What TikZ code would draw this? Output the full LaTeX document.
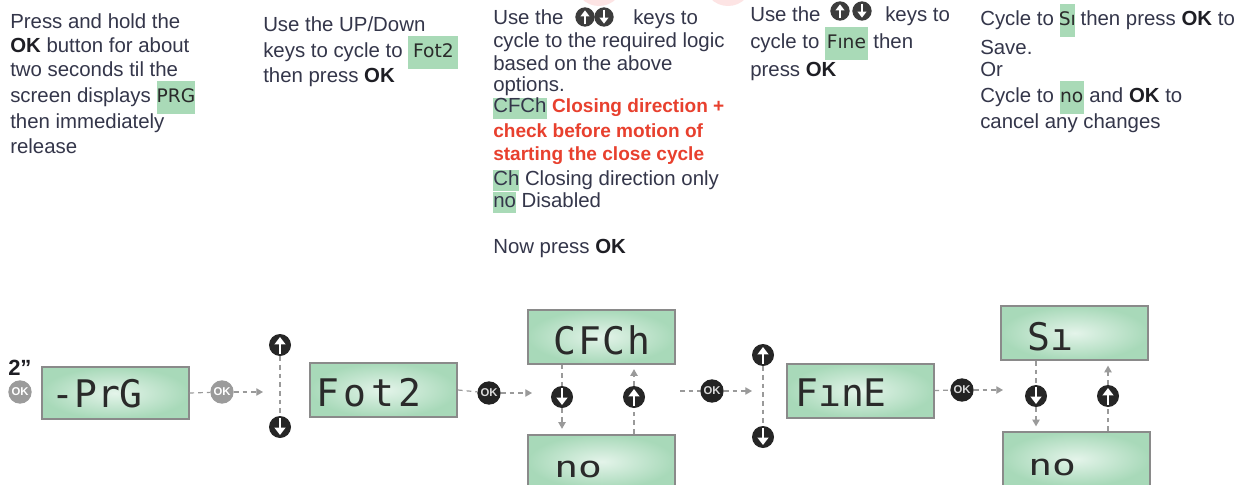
\documentclass[tikz,border=0pt]{standalone}
\usepackage{fontspec}
\setmainfont{Liberation Sans}
\newfontfamily\lcdfont{DejaVu Sans Mono}
\newfontfamily\lcdsmall{DejaVu Sans}
\usetikzlibrary{arrows.meta}
\definecolor{txtcol}{HTML}{34364A}
\definecolor{boldcol}{HTML}{1E1E24}
\definecolor{redcol}{HTML}{E8402E}
\definecolor{hlgreen}{HTML}{A9DAB7}
\definecolor{lcdin}{HTML}{E4F4EA}
\definecolor{lcdout}{HTML}{A8D9B9}
\definecolor{bordercol}{HTML}{8A8A8A}
\definecolor{lcdcol}{HTML}{2A2A2A}
\definecolor{okgreycol}{HTML}{9B9B9B}
\definecolor{okdarkcol}{HTML}{232323}
\definecolor{keycol}{HTML}{262626}
\definecolor{dashcol}{HTML}{9A9A9A}
\definecolor{pinkcol}{HTML}{FDE4E4}
\newcommand\lcdhl[2]{{\setlength\fboxsep{0pt}\colorbox{hlgreen}{\makebox[#1][c]{\rule[-8pt]{0pt}{24.5pt}\lcdsmall\fontsize{14}{14}\selectfont\color{lcdcol}#2}}}}
\newcommand\txthl[1]{{\setlength\fboxsep{0pt}\colorbox{hlgreen}{\rule[-4.5pt]{0pt}{16pt}#1}}}
\newcommand\okb{{\color{boldcol}\bfseries OK}}
\tikzset{
  txt/.style={anchor=base west, inner sep=0pt, text=txtcol, font=\fontsize{15.3}{18}\selectfont},
  redtxt/.style={txt, text=redcol, font=\fontsize{14.3}{17}\selectfont\bfseries},
  lcdbox/.style={draw=bordercol, line width=1.5pt, inner color=lcdin, outer color=lcdout, minimum width=110.25pt, minimum height=40.5pt, inner sep=0pt},
  lcdtxt/.style={anchor=west, inner sep=0pt, text=lcdcol, font=\lcdfont\fontsize{28.5}{30}\selectfont},
  lcdlow/.style={anchor=west, inner sep=0pt, text=lcdcol, font=\lcdfont\fontsize{22}{22}\selectfont\addfontfeature{FakeStretch=1.35}},
  okgrey/.style={circle, fill=okgreycol, minimum size=17.5pt, inner sep=0pt, text=white, font=\fontsize{8.5}{8.5}\selectfont\bfseries},
  okdark/.style={okgrey, fill=okdarkcol, text=white!85!black},
  keyup/.style={circle, fill=keycol, minimum size=16.5pt, inner sep=0pt,
    path picture={\draw[white, line width=2.2pt, -{Triangle[length=5.5pt,width=8pt]}] ([yshift=-6.5pt]path picture bounding box.center) -- ([yshift=6pt]path picture bounding box.center);}},
  keydown/.style={circle, fill=keycol, minimum size=16.5pt, inner sep=0pt,
    path picture={\draw[white, line width=2.2pt, -{Triangle[length=5.5pt,width=8pt]}] ([yshift=6.5pt]path picture bounding box.center) -- ([yshift=-6pt]path picture bounding box.center);}},
  smallup/.style={circle, fill=keycol!90!white, minimum size=14.5pt, inner sep=0pt,
    path picture={\draw[white, line width=1.8pt, -{Triangle[length=4.5pt,width=6.5pt]}] ([yshift=-5.5pt]path picture bounding box.center) -- ([yshift=5pt]path picture bounding box.center);}},
  smalldown/.style={circle, fill=keycol!90!white, minimum size=14.5pt, inner sep=0pt,
    path picture={\draw[white, line width=1.8pt, -{Triangle[length=4.5pt,width=6.5pt]}] ([yshift=5.5pt]path picture bounding box.center) -- ([yshift=-5pt]path picture bounding box.center);}},
  dl/.style={draw=dashcol, line width=0.9pt, dash pattern=on 3.5pt off 3pt},
  arrowend/.style={-{Triangle[length=5pt,width=5.5pt]}},
}
\begin{document}
\begin{tikzpicture}[x=0.75pt,y=-0.75pt]
\useasboundingbox (0,0) rectangle (1259,485);
\clip (0,0) rectangle (1259,485);
\fill[white] (0,0) rectangle (1259,485);
% faint pink shapes cut at the top edge
\fill[pinkcol] (599,-20) ellipse [x radius=18.75pt, y radius=19.5pt];
\fill[pinkcol] (728,-20) ellipse [x radius=18.75pt, y radius=19.5pt];

% ---------- column 1 ----------
\node[txt] (t1a) at (10,29) {Press and hold the};
\node[txt] (t1b) at (10,53) {\okb{} button for about};
\node[txt] (t1c) at (10,77) {two seconds til the};
\node[txt] (t1d) at (10,103) {screen displays \lcdhl{29pt}{PRG}};
\node[txt] (t1e) at (10,128) {then immediately};
\node[txt] (t1f) at (10,153) {release};

% ---------- column 2 ----------
\node[txt] (t2a) at (263,32) {Use the UP/Down};
\node[txt] (t2b) at (263,58) {keys to cycle to \lcdhl{37.5pt}{Fot2}};
\node[txt] (t2c) at (263,83) {then press \okb};

% ---------- column 3 ----------
\node[txt] (t3a) at (493,25) {Use the};
\node[smallup] (k1) at (585,17) {};
\node[smalldown] (k2) at (604,17) {};
\node[txt] (t3a2) at (633,25) {keys to};
\node[txt] (t3b) at (493,48) {cycle to the required logic};
\node[txt] (t3c) at (493,70) {based on the above};
\node[txt] (t3d) at (493,92) {options.};
\node[txt] (t3e) at (493,113) {\txthl{CFCh} {\color{redcol}\bfseries\fontsize{14.3}{17}\selectfont Closing direction +}};
\node[redtxt] (t3f) at (493,137) {check before motion of};
\node[redtxt] (t3g) at (493,160) {starting the close cycle};
\node[txt] (t3h) at (493,185) {\txthl{Ch} Closing direction only};
\node[txt] (t3i) at (493,207) {\txthl{no} Disabled};
\node[txt] (t3j) at (493,253) {Now press \okb};

% ---------- column 4 ----------
\node[txt] (t4a) at (750,22) {Use the};
\node[smallup] (k3) at (840,11) {};
\node[smalldown] (k4) at (862,11) {};
\node[txt] (t4a2) at (885,22) {keys to};
\node[txt] (t4b) at (750,49) {cycle to \lcdhl{32pt}{Fıne} then};
\node[txt] (t4c) at (750,76) {press \okb};

% ---------- column 5 ----------
\node[txt] (t5a) at (980,26) {Cycle to \lcdhl{11.5pt}{Sı} then press \okb{} to};
\node[txt] (t5b) at (980,55) {Save.};
\node[txt] (t5c) at (980,76) {Or};
\node[txt] (t5d) at (980,103) {Cycle to \lcdhl{18pt}{no} and \okb{} to};
\node[txt] (t5e) at (980,128) {cancel any changes};

% ---------- diagram ----------
\node[anchor=base west, inner sep=0pt, text=boldcol, font=\fontsize{16.5}{18}\selectfont\bfseries] (two) at (8,375) {2\symbol{34}};
\node[okgrey] (ok0) at (20,392) {OK};

\node[lcdbox, minimum height=39pt] (b1) at (115,393) {};
\node[lcdtxt] (l1) at (51,394) {-PrG};
\node[okgrey] (ok1) at (222,392) {OK};
\coordinate (j1) at (263,392);
\node[keyup] (u1) at (280,345) {};
\node[keydown] (d1) at (280,427) {};

\node[lcdbox] (b2) at (383.5,390) {};
\node[lcdtxt] (l2) at (316,393) {\addfontfeature{LetterSpace=12}Fot2};
\node[okdark] (ok2) at (489,393) {OK};
\coordinate (j2) at (532,393);

\node[lcdbox] (b3) at (601,336.5) {};
\node[lcdtxt] (l3) at (553,340) {\addfontfeature{LetterSpace=5}CFCh};
\node[lcdbox] (b4) at (601.5,461.5) {};
\node[lcdlow] (l4) at (554,469) {no};
\node[keydown] (d2) at (562,397) {};
\node[keyup] (u2) at (634,397) {};

\coordinate (s3) at (680,391);
\node[okdark] (ok3) at (712,391) {OK};
\coordinate (j3) at (752,391);
\node[keyup] (u3) at (763,355) {};
\node[keydown] (d3) at (763,437) {};

\node[lcdbox] (b5) at (860,390.5) {};
\node[lcdtxt] (l5) at (795,393) {FınE};
\node[okdark] (ok4) at (962,390) {OK};
\coordinate (j4) at (1003,390);

\node[lcdbox] (b6) at (1074.5,333) {};
\node[lcdtxt] (l6) at (1027,337) {Sı};
\node[lcdbox] (b7) at (1076,459) {};
\node[lcdlow] (l7) at (1028,467) {no};
\node[keydown] (d4) at (1036,396) {};
\node[keyup] (u4) at (1108,396) {};

% connectors
\draw[dl] (b1.east) -- (ok1);
\draw[dl, arrowend] (ok1) -- (j1);
\draw[dl] (u1) -- (d1);

\draw[dl] (b2.east) -- (ok2);
\draw[dl, arrowend] (ok2) -- (j2);
\draw[dl] (d2 |- b3.south) -- (d2);
\draw[dl, arrowend, shorten >=3.5pt] (d2) -- (d2 |- b4.north);
\draw[dl] (u2 |- b4.north) -- (u2);
\draw[dl, arrowend, shorten >=3.5pt] (u2) -- (u2 |- b3.south);

\draw[dl] (s3) -- (ok3);
\draw[dl, arrowend] (ok3) -- (j3);
\draw[dl] (u3) -- (d3);

\draw[dl] (b5.east) -- (ok4);
\draw[dl, arrowend] (ok4) -- (j4);
\draw[dl] (d4 |- b6.south) -- (d4);
\draw[dl, arrowend, shorten >=3.5pt] (d4) -- (d4 |- b7.north);
\draw[dl] (u4 |- b7.north) -- (u4);
\draw[dl, arrowend, shorten >=3.5pt] (u4) -- (u4 |- b6.south);
\end{tikzpicture}
\end{document}
